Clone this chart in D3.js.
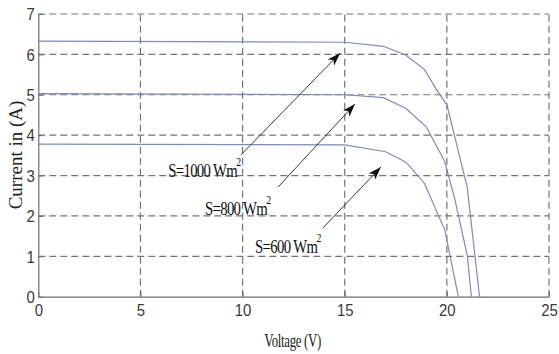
<!DOCTYPE html>
<html>
<head>
<meta charset="utf-8">
<script src="https://cdn.jsdelivr.net/npm/d3@7"></script>
<style>
  html, body { margin: 0; padding: 0; background: #fff; }
  svg { display: block; }
</style>
</head>
<body>
<svg id="chart" width="559" height="354"></svg>
<script>
// I-V characteristics of a PV module at three irradiance levels
const xTicks = [0, 5, 10, 15, 20, 25];
const yTicks = [0, 1, 2, 3, 4, 5, 6, 7];

const v1000 = [0, 15, 16.9, 18.0, 18.9, 19.5, 20.0, 21.0, 21.6];
const i1000 = [6.33, 6.30, 6.20, 5.98, 5.63, 5.12, 4.75, 2.70, 0];

const v800 = [0, 15, 16.9, 18.0, 19.0, 19.9, 20.4, 21.0, 21.2];
const i800 = [5.03, 5.00, 4.93, 4.66, 4.20, 3.34, 2.39, 1.02, 0];

const v600 = [0, 15, 17.0, 18.0, 18.9, 19.9, 20.56];
const i600 = [3.78, 3.76, 3.59, 3.33, 2.81, 1.65, 0];

const labels = ["S=1000 Wm", "S=800 Wm", "S=600 Wm"];
// label anchor (V, A) and arrow start/tip (V, A)
const labelAt = [[6.36, 2.96], [8.16, 2.02], [10.61, 1.08]];
const arrowFrom = [[9.92, 3.51], [11.73, 2.71], [13.93, 1.70]];
const arrowTo = [[14.77, 6.03], [15.5, 4.77], [16.77, 3.21]];

const svg = d3.select("#chart");
const x = d3.scaleLinear().domain([0, 25]).range([38.3, 549]);
const y = d3.scaleLinear().domain([0, 7]).range([296.7, 14]);

const gridColor = "#747474";
const axisColor = "#6e6e6e";

// dashed grid (the 7 A and 25 V lines close the frame)
svg.append("g").selectAll("line").data(yTicks.filter(d => d > 0)).join("line")
  .attr("x1", x(0)).attr("x2", x(25))
  .attr("y1", d => y(d)).attr("y2", d => y(d))
  .attr("stroke", gridColor).attr("stroke-width", 1.2)
  .attr("stroke-dasharray", "7,4");
svg.append("g").selectAll("line").data(xTicks.filter(d => d > 0)).join("line")
  .attr("x1", d => x(d)).attr("x2", d => x(d))
  .attr("y1", y(0)).attr("y2", y(7))
  .attr("stroke", gridColor).attr("stroke-width", 1.2)
  .attr("stroke-dasharray", "7,4");

// axes
const xAxis = svg.append("g").attr("transform", `translate(0,${y(0)})`)
  .call(d3.axisBottom(x).tickValues(xTicks).tickFormat(d3.format("d")).tickSize(-5).tickSizeOuter(0));
const yAxis = svg.append("g").attr("transform", `translate(${x(0)},0)`)
  .call(d3.axisLeft(y).tickValues(yTicks).tickFormat(d3.format("d")).tickSize(-5).tickSizeOuter(0));
[xAxis, yAxis].forEach(a => {
  a.select(".domain").attr("stroke", axisColor).attr("stroke-width", 1.2);
  a.selectAll(".tick line").attr("stroke", axisColor);
  a.selectAll("text").attr("fill", "#3a3a3a")
    .style("font-family", "'Liberation Sans', Arial, sans-serif").style("font-size", "17px");
});
xAxis.selectAll("text").attr("y", 7).attr("dy", "0.71em").attr("transform", "scale(0.88,1)");
yAxis.selectAll("text").attr("x", -4).attr("dy", "0.34em").attr("transform", "scale(0.88,1)");

// curves
const line = d3.line().x(d => x(d[0])).y(d => y(d[1]));
[[v1000, i1000], [v800, i800], [v600, i600]].forEach(([vs, is]) => {
  svg.append("path")
    .datum(vs.map((v, k) => [v, is[k]]))
    .attr("d", line)
    .attr("fill", "none")
    .attr("stroke", "#8089b8")
    .attr("stroke-width", 1.2);
});

// arrows
const defs = svg.append("defs");
defs.append("marker").attr("id", "head")
  .attr("viewBox", "0 0 13 9").attr("refX", 13).attr("refY", 4.5)
  .attr("markerWidth", 13).attr("markerHeight", 9)
  .attr("markerUnits", "userSpaceOnUse").attr("orient", "auto")
  .append("path").attr("d", "M0,0 L13,4.5 L0,9 L3.5,4.5 Z").attr("fill", "#111");
arrowFrom.forEach((f, k) => {
  svg.append("line")
    .attr("x1", x(f[0])).attr("y1", y(f[1]))
    .attr("x2", x(arrowTo[k][0])).attr("y2", y(arrowTo[k][1]))
    .attr("stroke", "#222").attr("stroke-width", 0.9)
    .attr("marker-end", "url(#head)");
});

// irradiance labels
labels.forEach((s, k) => {
  const g = svg.append("g")
    .attr("transform", `translate(${x(labelAt[k][0])},${y(labelAt[k][1])}) scale(0.82,1)`);
  const t = g.append("text")
    .style("font-family", "'Liberation Serif', 'Times New Roman', serif")
    .style("font-size", "18px").style("letter-spacing", "-0.8px").attr("fill", "#111");
  t.append("tspan").text(s);
  t.append("tspan").attr("dy", -11).attr("dx", -1).style("font-size", "12px").text("2");
});

// axis titles
svg.append("text")
  .attr("transform", `translate(${x(12.45)},347) scale(0.68,1)`)
  .attr("text-anchor", "middle")
  .style("font-family", "'Liberation Serif', 'Times New Roman', serif")
  .style("font-size", "19px").style("letter-spacing", "-0.5px").attr("fill", "#222")
  .text("Voltage (V)");
svg.append("text")
  .attr("transform", `translate(22,155) rotate(-90)`)
  .attr("text-anchor", "middle")
  .style("font-family", "'Liberation Serif', 'Times New Roman', serif")
  .style("font-size", "19px").attr("fill", "#222")
  .text("Current in (A)");
</script>
</body>
</html>
